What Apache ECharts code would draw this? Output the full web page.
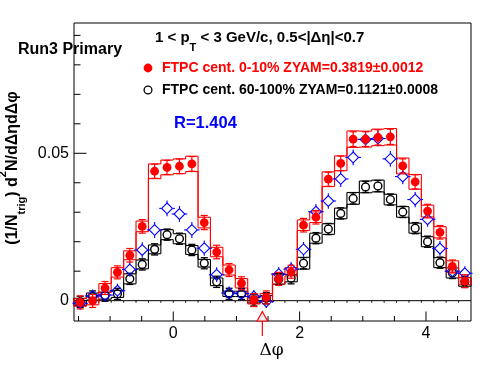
<!DOCTYPE html>
<html>
<head>
<meta charset="utf-8">
<script src="https://cdn.jsdelivr.net/npm/echarts@6/dist/echarts.min.js"></script>
<style>
html,body{margin:0;padding:0;background:#fff;}
#chart{width:496px;height:374px;}
</style>
</head>
<body>
<div id="chart"></div>
<script>
// ---- data ----
const PHI = [-1.4726,-1.2763,-1.0799,-0.8836,-0.6872,-0.4909,-0.2945,-0.0982,
             0.0982,0.2945,0.4909,0.6872,0.8836,1.0799,1.2763,1.4726,
             1.6690,1.8653,2.0617,2.2580,2.4544,2.6507,2.8471,3.0434,
             3.2398,3.4361,3.6325,3.8288,4.0252,4.2215,4.4179,4.6142];
const BIN_WIDTH = Math.PI / 16;

const RED = [-0.0006,-0.0001,0.0043,0.0096,0.0154,0.0252,0.0439,0.0452,
             0.0456,0.0464,0.0265,0.0165,0.0104,0.0059,0.0002,0.0011,
             0.0074,0.0098,0.0256,0.0283,0.0412,0.0466,0.0548,0.0548,
             0.0554,0.0556,0.0457,0.0403,0.0304,0.0232,0.0116,0.0066];
const RED_ERR = [0.0022,0.0022,0.0022,0.0022,0.0023,0.0023,0.0024,0.0024,
                 0.0025,0.0025,0.0024,0.0023,0.0022,0.0022,0.0022,0.0022,
                 0.0022,0.0022,0.0023,0.0023,0.0024,0.0025,0.0025,0.0025,
                 0.0026,0.0026,0.0024,0.0024,0.0023,0.0023,0.0022,0.0022];
const RED_SYS = [0.0013,0.0013,0.0015,0.0016,0.0015,0.0018,0.0025,0.0025,
                 0.0025,0.0026,0.0018,0.0016,0.0017,0.0016,0.0013,0.0013,
                 0.0018,0.0014,0.0018,0.0018,0.0025,0.0025,0.0028,0.0027,
                 0.0028,0.0028,0.0027,0.0025,0.0020,0.0019,0.0019,0.0012];

const BLACK = [-0.0004,0.0014,0.0017,0.0023,0.0074,0.0123,0.0174,0.0224,
               0.0210,0.0172,0.0127,0.0064,0.0023,0.0023,0.0001,0.0008,
               0.0073,0.0076,0.0127,0.0212,0.0243,0.0296,0.0347,0.0386,
               0.0389,0.0343,0.0301,0.0246,0.0200,0.0129,0.0094,0.0064];
const BLACK_ERR = [0.0019,0.0019,0.0019,0.0019,0.0019,0.0019,0.0019,0.0019,
                   0.0019,0.0019,0.0019,0.0019,0.0019,0.0019,0.0019,0.0019,
                   0.0019,0.0019,0.0019,0.0019,0.0019,0.0019,0.0019,0.0019,
                   0.0019,0.0019,0.0019,0.0019,0.0019,0.0019,0.0019,0.0019];
const BLACK_SYS = [0.0012,0.0012,0.0012,0.0012,0.0017,0.0015,0.0015,0.0017,
                   0.0017,0.0015,0.0013,0.0013,0.0009,0.0009,0.0009,0.0009,
                   0.0017,0.0012,0.0020,0.0017,0.0018,0.0018,0.0020,0.0020,
                   0.0020,0.0018,0.0018,0.0017,0.0017,0.0017,0.0017,0.0015];

const BLUE = [-0.0009,0.0016,0.0019,0.0034,0.0106,0.0172,0.0240,0.0313,
              0.0294,0.0240,0.0178,0.0088,0.0026,0.0024,0.0014,-0.0003,
              0.0090,0.0107,0.0174,0.0302,0.0338,0.0413,0.0486,0.0547,
              0.0550,0.0481,0.0421,0.0343,0.0276,0.0177,0.0100,0.0093];
const BLUE_ERR = [0.0022,0.0022,0.0022,0.0023,0.0025,0.0026,0.0027,0.0027,
                  0.0027,0.0027,0.0026,0.0025,0.0022,0.0022,0.0022,0.0022,
                  0.0024,0.0024,0.0025,0.0026,0.0026,0.0027,0.0027,0.0027,
                  0.0027,0.0027,0.0026,0.0026,0.0025,0.0025,0.0024,0.0024];

const X_MIN = -Math.PI / 2, X_MAX = 1.5 * Math.PI;
const Y_MIN = -0.0069, Y_MAX = 0.0942;
const X_MAJOR = [0, 2, 4];
const X_MINOR = [-1.5, -1, -0.5, 0.5, 1, 1.5, 2.5, 3, 3.5, 4.5];
const Y_MAJOR = [0, 0.05];
const Y_MINOR = [0.01, 0.02, 0.03, 0.04, 0.06, 0.07, 0.08, 0.09];
const ZYAM_PHI = 1.41;

const TITLE = '1 < p{s|T} < 3 GeV/c, 0.5<|Δη|<0.7';
const LABEL_TEXT = 'Run3 Primary';
const LEG1 = 'FTPC cent. 0-10% ZYAM=0.3819±0.0012';
const LEG2 = 'FTPC cent. 60-100% ZYAM=0.1121±0.0008';
const RATIO = 'R=1.404';

// ---- style ----
const FONT = "'Liberation Sans', Arial, Helvetica, sans-serif";
const C_RED = '#ff0000', C_BLUE = '#0000ff', C_BLACK = '#000000';

function zip(...arrs) { return arrs[0].map((_, i) => arrs.map(a => a[i])); }

// systematic band drawn as upper and lower step outlines (with bin edges)
function bandData(vals, sys) {
  return vals.map((v, i) => {
    const up = v + sys[i], lo = v - sys[i];
    const pUp = i > 0 ? vals[i - 1] + sys[i - 1] : lo;
    const pLo = i > 0 ? vals[i - 1] - sys[i - 1] : up;
    return [PHI[i], up, lo, pUp, pLo, i === vals.length - 1 ? 1 : 0];
  });
}
function bandRender(color) {
  return function (params, api) {
    const x = api.value(0), up = api.value(1), lo = api.value(2);
    const pUp = api.value(3), pLo = api.value(4), last = api.value(5);
    const xl = x - BIN_WIDTH / 2, xr = x + BIN_WIDTH / 2;
    const st = { stroke: color, lineWidth: 1.1 };
    const L = (a, b) => ({ type: 'line', shape: { x1: a[0], y1: a[1], x2: b[0], y2: b[1] }, style: st });
    const kids = [
      L(api.coord([xl, up]), api.coord([xr, up])),
      L(api.coord([xl, lo]), api.coord([xr, lo])),
      L(api.coord([xl, pUp]), api.coord([xl, up])),
      L(api.coord([xl, pLo]), api.coord([xl, lo]))
    ];
    if (last) kids.push(L(api.coord([xr, lo]), api.coord([xr, up])));
    return { type: 'group', children: kids };
  };
}

function redRender(params, api) {
  const x = api.value(0), y = api.value(1), e = api.value(2);
  const c = api.coord([x, y]);
  const t = api.coord([x, y + e])[1], b = api.coord([x, y - e])[1];
  const cw = 3.5, st = { stroke: C_RED, lineWidth: 1.2 };
  return { type: 'group', children: [
    { type: 'line', shape: { x1: c[0], y1: t, x2: c[0], y2: b }, style: st },
    { type: 'line', shape: { x1: c[0] - cw, y1: t, x2: c[0] + cw, y2: t }, style: st },
    { type: 'line', shape: { x1: c[0] - cw, y1: b, x2: c[0] + cw, y2: b }, style: st },
    { type: 'circle', shape: { cx: c[0], cy: c[1], r: 4.4 }, style: { fill: C_RED } }
  ] };
}

function blackRender(params, api) {
  const x = api.value(0), y = api.value(1), e = api.value(2);
  const c = api.coord([x, y]);
  const r = 3.9;
  let t = api.coord([x, y + e])[1], b = api.coord([x, y - e])[1];
  t = Math.min(t, c[1] - r - 1.5); b = Math.max(b, c[1] + r + 1.5);
  const cw = 3.5, st = { stroke: C_BLACK, lineWidth: 1.3 };
  return { type: 'group', children: [
    { type: 'line', shape: { x1: c[0], y1: t, x2: c[0], y2: c[1] - r }, style: st },
    { type: 'line', shape: { x1: c[0], y1: c[1] + r, x2: c[0], y2: b }, style: st },
    { type: 'line', shape: { x1: c[0] - cw, y1: t, x2: c[0] + cw, y2: t }, style: st },
    { type: 'line', shape: { x1: c[0] - cw, y1: b, x2: c[0] + cw, y2: b }, style: st },
    { type: 'circle', shape: { cx: c[0], cy: c[1], r: r }, style: { fill: 'none', stroke: C_BLACK, lineWidth: 1.4 } }
  ] };
}

function blueRender(params, api) {
  const x = api.value(0), y = api.value(1), e = api.value(2);
  const c = api.coord([x, y]);
  const d = 5.4, hw = 7.8;
  const t = api.coord([x, y + e])[1], b = api.coord([x, y - e])[1];
  const st = { stroke: C_BLUE, lineWidth: 1.1 };
  return { type: 'group', children: [
    { type: 'line', shape: { x1: c[0], y1: t, x2: c[0], y2: c[1] - d }, style: st },
    { type: 'line', shape: { x1: c[0], y1: c[1] + d, x2: c[0], y2: b }, style: st },
    { type: 'line', shape: { x1: c[0] - hw, y1: c[1], x2: c[0] - d, y2: c[1] }, style: st },
    { type: 'line', shape: { x1: c[0] + d, y1: c[1], x2: c[0] + hw, y2: c[1] }, style: st },
    { type: 'polygon', shape: { points: [[c[0], c[1] - d], [c[0] + d, c[1]], [c[0], c[1] + d], [c[0] - d, c[1]]] },
      style: { fill: 'none', stroke: C_BLUE, lineWidth: 1.1 } }
  ] };
}

function zeroRender(params, api) {
  const x = api.value(0);
  const a = api.coord([x - BIN_WIDTH / 2, 0]), b = api.coord([x + BIN_WIDTH / 2, 0]);
  const st = { stroke: C_BLACK, lineWidth: 1 };
  return { type: 'group', children: [
    { type: 'line', shape: { x1: a[0], y1: a[1], x2: b[0], y2: b[1] }, style: st },
    { type: 'line', shape: { x1: a[0], y1: a[1], x2: a[0], y2: a[1] + 2 }, style: st }
  ] };
}

function xTickRender(params, api) {
  const v = api.value(0), major = api.value(1);
  const p = api.coord([v, Y_MIN]);
  const len = major ? 9.5 : 5;
  return { type: 'line', shape: { x1: p[0], y1: p[1], x2: p[0], y2: p[1] - len }, style: { stroke: C_BLACK, lineWidth: 1 } };
}
function yTickRender(params, api) {
  const v = api.value(1), major = api.value(2);
  const p = api.coord([X_MIN, v]);
  const len = major ? 12.5 : 6.5;
  return { type: 'line', shape: { x1: p[0], y1: p[1], x2: p[0] + len, y2: p[1] }, style: { stroke: C_BLACK, lineWidth: 1 } };
}
function arrowRender(params, api) {
  const p = api.coord([api.value(0), Y_MIN]);
  return { type: 'group', children: [
    { type: 'polygon', shape: { points: [[p[0], p[1] - 9.5], [p[0] + 5.2, p[1]], [p[0] - 5.2, p[1]]] },
      style: { fill: '#eeeeee', stroke: C_RED, lineWidth: 1.2 } },
    { type: 'line', shape: { x1: p[0], y1: p[1], x2: p[0], y2: p[1] + 15 }, style: { stroke: C_RED, lineWidth: 1.2 } }
  ] };
}

const chart = echarts.init(document.getElementById('chart'), null, { renderer: 'canvas' });
const option = {
  animation: false,
  backgroundColor: '#ffffff',
  grid: { left: 74, top: 23, width: 397, height: 298, show: true, borderColor: '#000', borderWidth: 1, backgroundColor: 'transparent' },
  xAxis: {
    type: 'value', min: X_MIN, max: X_MAX,
    axisLine: { show: false }, splitLine: { show: false }, axisTick: { show: false },
    axisLabel: { customValues: X_MAJOR, formatter: v => String(v), fontSize: 16, color: '#000', fontFamily: FONT, margin: 5 }
  },
  yAxis: {
    type: 'value', min: Y_MIN, max: Y_MAX,
    axisLine: { show: false }, splitLine: { show: false }, axisTick: { show: false },
    axisLabel: { customValues: Y_MAJOR, formatter: v => (v === 0 ? '0' : String(v)), fontSize: 16, color: '#000', fontFamily: FONT, margin: 5 }
  },
  series: [
    { type: 'custom', name: 'xticks', renderItem: xTickRender, silent: true,
      data: X_MAJOR.map(v => [v, 1]).concat(X_MINOR.map(v => [v, 0])) },
    { type: 'custom', name: 'yticks', renderItem: yTickRender, silent: true,
      data: Y_MAJOR.map(v => [X_MIN, v, 1]).concat(Y_MINOR.map(v => [X_MIN, v, 0])) },
    { type: 'custom', name: 'zero', renderItem: zeroRender, silent: true, data: PHI.map(p => [p, 0]) },
    { type: 'custom', name: 'black sys', renderItem: bandRender(C_BLACK), data: bandData(BLACK, BLACK_SYS) },
    { type: 'custom', name: 'red sys', renderItem: bandRender(C_RED), data: bandData(RED, RED_SYS) },
    { type: 'custom', name: 'FTPC cent. 60-100%', renderItem: blackRender, data: zip(PHI, BLACK, BLACK_ERR) },
    { type: 'custom', name: 'ratio', renderItem: blueRender, data: zip(PHI, BLUE, BLUE_ERR) },
    { type: 'custom', name: 'FTPC cent. 0-10%', renderItem: redRender, data: zip(PHI, RED, RED_ERR) },
    { type: 'custom', name: 'zyam', renderItem: arrowRender, clip: false, data: [[ZYAM_PHI, Y_MIN]] }
  ],
  graphic: [
    { type: 'text', x: 155, y: 37.5, style: {
      text: TITLE, fill: '#000', fontSize: 15, fontWeight: 'bold', fontFamily: FONT,
      verticalAlign: 'middle', align: 'left', lineHeight: 32,
      rich: { s: { fontSize: 11, fontWeight: 'bold', fontFamily: FONT, fill: '#000', verticalAlign: 'bottom', lineHeight: 11 } } } },
    { type: 'text', x: 18, y: 50, style: { text: LABEL_TEXT, fill: '#000', fontSize: 16, fontWeight: 'bold', fontFamily: FONT, verticalAlign: 'middle' } },
    { type: 'circle', shape: { cx: 148, cy: 68, r: 4.4 }, style: { fill: C_RED } },
    { type: 'text', x: 162, y: 68.5, style: { text: LEG1, fill: C_RED, fontSize: 14, fontWeight: 'bold', fontFamily: FONT, verticalAlign: 'middle' } },
    { type: 'circle', shape: { cx: 148, cy: 90, r: 3.9 }, style: { fill: 'none', stroke: C_BLACK, lineWidth: 1.3 } },
    { type: 'text', x: 162, y: 90.5, style: { text: LEG2, fill: C_BLACK, fontSize: 14, fontWeight: 'bold', fontFamily: FONT, verticalAlign: 'middle' } },
    { type: 'text', x: 174, y: 123, style: { text: RATIO, fill: C_BLUE, fontSize: 16.5, fontWeight: 'bold', fontFamily: FONT, verticalAlign: 'middle' } },
    { type: 'text', x: 271.5, y: 351, style: { text: 'Δφ', fill: '#000', fontSize: 17, fontFamily: "'DejaVu Serif', 'Liberation Serif', serif", align: 'center', verticalAlign: 'middle' } },
    { type: 'text', x: 12.5, y: 168, rotation: Math.PI / 2, style: {
      text: '(1/N{s|trig}) d{p|2}N/dΔηdΔφ', fill: '#000', fontSize: 16, fontWeight: 'bold', fontFamily: FONT,
      align: 'center', verticalAlign: 'middle', lineHeight: 30,
      rich: {
        s: { fontSize: 11, fontWeight: 'bold', fontFamily: FONT, fill: '#000', verticalAlign: 'bottom', lineHeight: 12 },
        p: { fontSize: 11, fontWeight: 'bold', fontFamily: FONT, fill: '#000', verticalAlign: 'top', lineHeight: 20 }
      } } }
  ]
};
chart.setOption(option);
</script>
</body>
</html>
